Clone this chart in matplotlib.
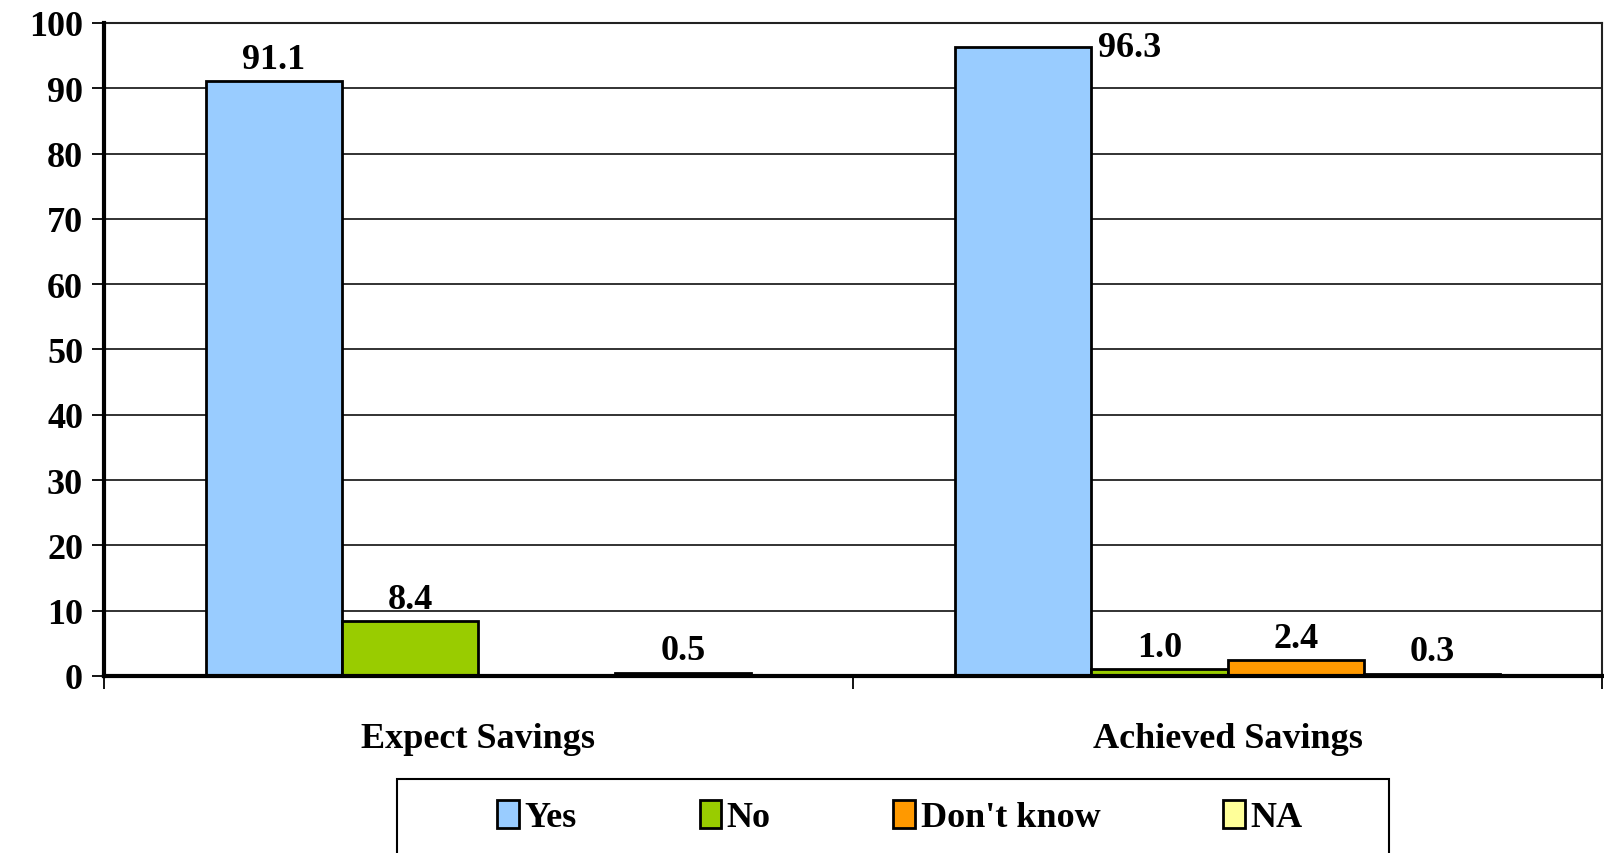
import matplotlib.pyplot as plt
from matplotlib.patches import Rectangle
import numpy as np

plt.rcParams['font.family'] = ['Liberation Serif', 'DejaVu Serif']
plt.rcParams['font.weight'] = 'bold'

groups = ['Expect Savings', 'Achieved Savings']
answers = ['Yes', 'No', "Don't know", 'NA']
values = {
    'Yes': [91.1, 96.3],
    'No': [8.4, 1.0],
    "Don't know": [0.0, 2.4],
    'NA': [0.5, 0.3],
}
colors = ['#99CCFF', '#99CC00', '#FF9900', '#FFFF99']

FS = 26

fig = plt.figure(figsize=(16.04, 8.54), dpi=100)
ax = fig.add_axes([0.0648, 0.2073, 0.934, 0.7646])

x = np.arange(len(groups))
width = 0.182
for i, (name, color) in enumerate(zip(answers, colors)):
    pos = x + (i - 1.5) * width
    bars = ax.bar(pos, values[name], width, color=color, edgecolor='black',
                  linewidth=2, label=name, zorder=3)
    for b, v in zip(bars, values[name]):
        if v == 0:
            continue
        cx = b.get_x() + b.get_width() / 2
        if v > 95:
            # no room above the plot top, put the label beside the bar
            ax.annotate(f'{v:.1f}', (b.get_x() + b.get_width(), v),
                        xytext=(5, 0), textcoords='offset points',
                        ha='left', va='center', fontsize=FS, fontweight='bold')
        else:
            ax.annotate(f'{v:.1f}', (cx, v), xytext=(0, 4),
                        textcoords='offset points', ha='center', va='bottom',
                        fontsize=FS, fontweight='bold')

ax.set_xlim(-0.5, 1.5)
ax.set_ylim(0, 100)
ax.set_yticks(range(0, 101, 10))
ax.yaxis.grid(True, color='#222222', linewidth=1.3, zorder=0)
ax.tick_params(axis='y', labelsize=FS, length=9, width=1.3, pad=6)

# group boundaries get tick marks, group names sit between them
ax.set_xticks([-0.5, 0.5, 1.5])
ax.set_xticklabels([])
ax.set_xticks(x, minor=True)
ax.set_xticklabels(groups, minor=True)
ax.tick_params(axis='x', which='major', length=9, width=1.3, direction='out')
ax.tick_params(axis='x', which='minor', length=0, labelsize=FS, pad=33)

for s in ['top', 'right']:
    ax.spines[s].set_linewidth(1.5)
    ax.spines[s].set_color('#222222')
for s in ['left', 'bottom']:
    ax.spines[s].set_linewidth(3)
    ax.spines[s].set_zorder(4)

# legend box runs off the bottom edge of the figure
fig.patches.append(Rectangle((0.2475, -0.05), 0.6185, 0.1367,
                             transform=fig.transFigure, fill=False,
                             edgecolor='black', linewidth=1.5))
fig.legend(loc='center', bbox_to_anchor=(0.561, 0.042), ncol=4, fontsize=FS,
           frameon=False, handlelength=0.6, handleheight=0.8,
           handletextpad=0.15, columnspacing=3.4, borderaxespad=0)

fig.savefig('out.png', dpi=100)
